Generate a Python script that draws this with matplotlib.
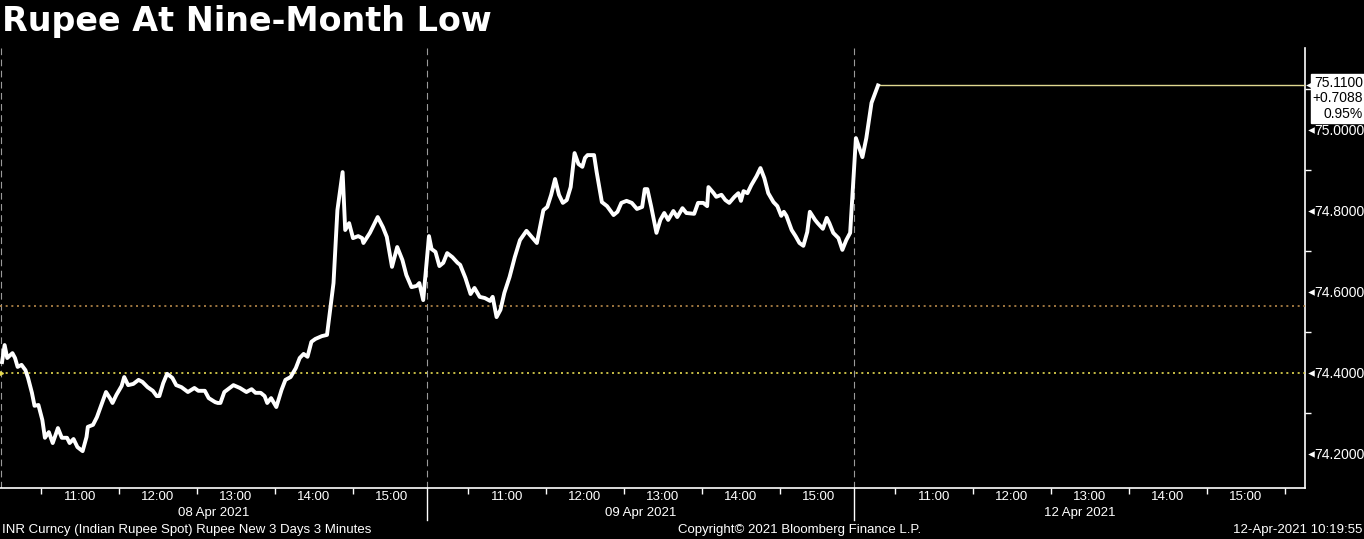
import matplotlib
matplotlib.use("Agg")
import matplotlib.pyplot as plt
import matplotlib.transforms as mtransforms

# INR spot, 3-minute bars, minutes after 10:00 and price for each day
day1_min = [0, 2, 4, 8, 10, 12, 15, 18, 20, 23, 25, 28, 31, 33, 36, 39, 43, 46, 50, 52,
            55, 58, 62, 65, 66, 70, 73, 77, 80, 83, 85, 88, 92, 94, 97, 101, 105, 108, 112, 116,
            119, 121, 124, 127, 131, 134, 138, 143, 148, 151, 156, 159, 164, 166, 168, 171, 178, 183, 188, 192,
            195, 199, 202, 204, 207, 211, 215, 218, 222, 226, 229, 232, 235, 238, 241, 246, 250, 255, 258, 262,
            264, 267, 270, 274, 277, 278, 283, 289, 293, 296, 300, 304, 308, 311, 315, 319, 321, 324]
day1_val = [74.427, 74.469, 74.437, 74.449, 74.437, 74.415, 74.420, 74.407, 74.388, 74.351,
            74.319, 74.321, 74.284, 74.240, 74.254, 74.227, 74.264, 74.240, 74.240, 74.227,
            74.237, 74.217, 74.207, 74.242, 74.267, 74.272, 74.291, 74.326, 74.353, 74.338,
            74.326, 74.346, 74.368, 74.390, 74.370, 74.373, 74.383, 74.378, 74.365, 74.356,
            74.343, 74.343, 74.375, 74.398, 74.388, 74.370, 74.365, 74.353, 74.363, 74.356,
            74.356, 74.338, 74.328, 74.326, 74.326, 74.353, 74.370, 74.363, 74.353, 74.360,
            74.351, 74.351, 74.343, 74.326, 74.338, 74.316, 74.358, 74.383, 74.390, 74.412,
            74.437, 74.447, 74.440, 74.477, 74.484, 74.491, 74.494, 74.622, 74.802, 74.896,
            74.753, 74.770, 74.733, 74.738, 74.733, 74.721, 74.746, 74.785, 74.760, 74.736,
            74.662, 74.711, 74.679, 74.642, 74.612, 74.615, 74.622, 74.580]

day2_min = [0, 2, 5, 8, 11, 14, 18, 22, 24, 28, 32, 35, 39, 43, 47, 49, 52, 55, 58, 62,
            66, 70, 75, 79, 83, 88, 91, 94, 97, 100, 103, 106, 109, 112, 115, 118, 120, 122, 127, 129,
            133, 137, 142, 145, 148, 152, 156, 160, 164, 166, 168, 171, 175, 178, 181, 184, 188, 191, 195, 198,
            204, 207, 211, 214, 215, 219, 221, 225, 228, 231, 235, 238, 240, 242, 245, 248, 252, 255, 258, 261,
            265, 268, 271, 273, 275, 279, 282, 285, 288, 291, 293, 297, 299, 303, 306, 308, 311, 315, 318, 321, 324]
day2_val = [74.738, 74.706, 74.699, 74.664, 74.672, 74.696, 74.686, 74.672, 74.667, 74.635,
            74.595, 74.610, 74.588, 74.585, 74.578, 74.588, 74.538, 74.556, 74.598, 74.637,
            74.686, 74.728, 74.751, 74.736, 74.721, 74.802, 74.810, 74.840, 74.879, 74.840,
            74.820, 74.827, 74.859, 74.943, 74.916, 74.909, 74.931, 74.938, 74.938, 74.896,
            74.822, 74.812, 74.790, 74.798, 74.820, 74.825, 74.820, 74.805, 74.810, 74.854,
            74.854, 74.810, 74.746, 74.778, 74.795, 74.778, 74.800, 74.785, 74.807, 74.795,
            74.793, 74.820, 74.820, 74.812, 74.859, 74.844, 74.835, 74.840, 74.827, 74.820,
            74.835, 74.844, 74.825, 74.849, 74.844, 74.864, 74.886, 74.906, 74.881, 74.844,
            74.822, 74.812, 74.788, 74.798, 74.788, 74.753, 74.738, 74.721, 74.714, 74.748,
            74.798, 74.778, 74.770, 74.756, 74.783, 74.770, 74.746, 74.733, 74.704, 74.728, 74.746]

day3_min = [0, 5, 8, 12, 17]
day3_val = [74.980, 74.933, 74.980, 75.067, 75.110]

day_labels = ["08 Apr 2021", "09 Apr 2021", "12 Apr 2021"]
hour_labels = ["11:00", "12:00", "13:00", "14:00", "15:00"]
last_price = 75.1100
net_change = 0.7088
pct_change = 0.95
prev_close = 74.4012
average_line = 74.566
y_ticks = [74.2, 74.4, 74.6, 74.8, 75.0]

DAY = 5.474      # width of one session on the time axis (hours)
SHIFT = 0.026
x_left, x_right = -SHIFT, 16.705
SMALL = ["Liberation Sans Narrow", "Liberation Sans", "DejaVu Sans"]

fig = plt.figure(figsize=(13.64, 5.39), dpi=100, facecolor="black")
ax = fig.add_axes([0, 0.0946, 0.9567, 0.8164], facecolor="black")

xs, ys = [], []
for d, (mins, vals) in enumerate([(day1_min, day1_val), (day2_min, day2_val), (day3_min, day3_val)]):
    xs += [d * DAY + m / 60 for m in mins]
    ys += vals
ax.plot(xs, ys, color="white", lw=2.8, solid_joinstyle="round", zorder=5)

ax.set_xlim(x_left, x_right)
ax.set_ylim(74.116, 75.2025)

# reference lines
ax.axhline(prev_close, color="#e8dc50", lw=1.2, ls=(0, (1.2, 2.2)), zorder=3)
ax.axhline(average_line, color="#b8894a", lw=1.2, ls=(0, (1.2, 2.2)), zorder=3)
ax.plot([xs[-1], x_right], [last_price, last_price], color="#e0d890", lw=1, zorder=4)
ax.plot([x_left], [prev_close], marker=">", color="#e8dc50", ms=5, clip_on=False, zorder=6)

# day separators
for d in range(3):
    ax.axvline(d * DAY - SHIFT + (0.01 if d == 0 else 0), color="#9a9a9a", lw=0.8,
               ls=(0, (6, 4)), zorder=2)

for s in ["top", "left"]:
    ax.spines[s].set_visible(False)
ax.spines["right"].set_color("white")
ax.spines["bottom"].set_color("white")
ax.spines["right"].set_linewidth(1.2)
ax.spines["bottom"].set_linewidth(1.2)

# x axis: hour labels, half-hour ticks
major = []
minor = []
labels = []
for d in range(3):
    for i, lab in enumerate(hour_labels):
        major.append(d * DAY + i + 1)
        labels.append(lab)
    n_half = 6 if d == 2 else 5
    for i in range(n_half):
        minor.append(d * DAY + i + 0.5)
ax.set_xticks(major)
ax.set_xticklabels(labels, family=SMALL)
ax.set_xticks(minor, minor=True)
ax.tick_params(axis="x", which="major", length=0, pad=2, colors="white", labelsize=9.5)
ax.tick_params(axis="x", which="minor", length=4, width=1, colors="white", direction="out")

trans = mtransforms.blended_transform_factory(ax.transData, fig.transFigure)
for d, lab in enumerate(day_labels):
    start = d * DAY - SHIFT
    end = x_right if d == 2 else (d + 1) * DAY - SHIFT
    ax.text((start + end) / 2, 1 - 513 / 539, lab, transform=trans, color="white",
            fontsize=9.5, family=SMALL, ha="center", va="center")
    if d > 0:
        ax.plot([start, start], [1 - 488 / 539, 1 - 520 / 539], transform=trans,
                color="white", lw=1, clip_on=False)

# y axis on the right
ax.yaxis.tick_right()
ax.set_yticks(y_ticks)
ax.set_yticklabels([f"{v:.4f}" for v in y_ticks], family=["Liberation Sans", "DejaVu Sans"])
ax.set_yticks([74.3, 74.5, 74.7, 74.9, 75.1], minor=True)
ax.tick_params(axis="y", which="major", length=0, pad=6.5, colors="white", labelsize=10)
ax.tick_params(axis="y", which="minor", length=4, width=1, colors="white", direction="out")
ytrans = mtransforms.blended_transform_factory(ax.transAxes, ax.transData)
ax.scatter([1.0045] * len(y_ticks), y_ticks, marker="<", s=22, color="white",
           transform=ytrans, clip_on=False, zorder=6, linewidths=0)

# last value box
ax.annotate(f"{last_price:.4f}\n+{net_change:.4f}\n{pct_change:.2f}%",
            xy=(1.0, last_price), xycoords=ytrans, xytext=(5.5, 7), textcoords="offset points",
            ha="left", va="top", multialignment="right", color="black", fontsize=10,
            family=["Liberation Sans", "DejaVu Sans"], linespacing=1.15, zorder=10,
            annotation_clip=False, bbox=dict(boxstyle="square,pad=0.12", fc="white", ec="white"))
ax.scatter([1.0035], [last_price], marker="<", s=40, color="white", transform=ytrans,
           clip_on=False, zorder=9, linewidths=0)

# title and footer
fig.text(2 / 1364, 1 - 22 / 539, "Rupee At Nine-Month Low", color="white", fontsize=24,
         fontweight="bold", family="DejaVu Sans", ha="left", va="center")
fig.text(2 / 1364, 1 - 530 / 539, "INR Curncy (Indian Rupee Spot) Rupee New 3 Days 3 Minutes",
         color="white", fontsize=9.5, family=SMALL, ha="left", va="center")
fig.text(800 / 1364, 1 - 530 / 539, "Copyright\u00a9 2021 Bloomberg Finance L.P.",
         color="white", fontsize=9.5, family=SMALL, ha="center", va="center")
fig.text(1362 / 1364, 1 - 530 / 539, "12-Apr-2021 10:19:55",
         color="white", fontsize=9.5, family=SMALL, ha="right", va="center")

fig.savefig("out.png", dpi=100, facecolor="black")
